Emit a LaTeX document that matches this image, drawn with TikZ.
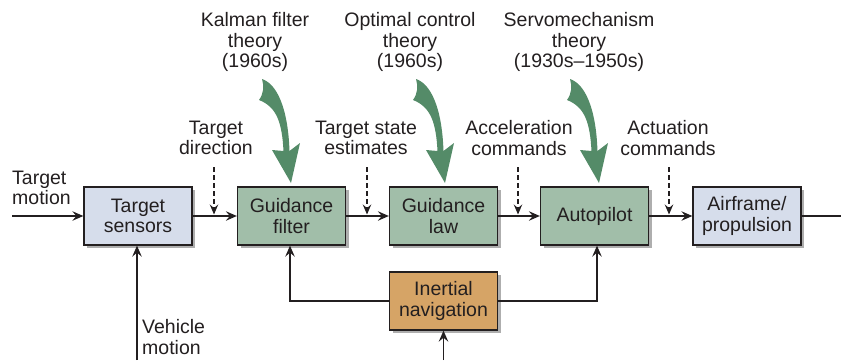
\documentclass[tikz,border=0pt]{standalone}
\usepackage{fontspec}
\setmainfont{Liberation Sans}
\usetikzlibrary{arrows.meta,shadows,calc}

\definecolor{ink}{RGB}{35,31,32}
\definecolor{boxgreen}{RGB}{161,190,169}
\definecolor{boxblue}{RGB}{214,221,235}
\definecolor{boxorange}{RGB}{214,164,102}
\definecolor{fatgreen}{RGB}{84,139,104}

\tikzset{
  block/.style={draw=ink, line width=1.3pt, minimum width=108pt, minimum height=58pt,
    align=center, inner sep=0pt, text=ink,
    drop shadow={shadow xshift=3pt, shadow yshift=-3pt, fill=black!45, opacity=0.7}},
  bluebox/.style={block, fill=boxblue},
  greenbox/.style={block, fill=boxgreen},
  orangebox/.style={block, fill=boxorange},
  lbl/.style={align=center, inner sep=0pt, text=ink},
  conn/.style={draw=ink, line width=1.3pt, -{Stealth[length=11pt,width=9.5pt,inset=4pt]}},
  plainline/.style={draw=ink, line width=1.3pt},
  dasharrow/.style={draw=ink, line width=1.2pt, dash pattern=on 5pt off 3pt,
    -{Stealth[length=10pt,width=8.5pt,inset=3.5pt]}},
  fatarrow/.style={fill=fatgreen, draw=none}
}

\begin{document}
\begin{tikzpicture}[x=1pt, y=-1pt, font=\fontsize{19.5}{20.5}\selectfont]
\useasboundingbox (0,0) rectangle (841,360);

% curved "theory" arrows feeding the blocks
\foreach \tx in {291,445,599}{
  \fill[fatarrow, shift={(\tx,183)}]
    (-29,-104) .. controls (-14,-99) and (-3,-75) .. (-1.5,-32)
    -- (9,-40) -- (0,0) -- (-19,-33) -- (-7.5,-32)
    .. controls (-9,-60) and (-14,-76) .. (-32,-83)
    .. controls (-27,-90) and (-27,-97) .. cycle;
}

% blocks
\node[bluebox]   (ts)  at (138,216)   {Target\\sensors};
\node[greenbox]  (gf)  at (291.5,216) {Guidance\\filter};
\node[greenbox]  (gl)  at (443.5,216) {Guidance\\law};
\node[greenbox]  (ap)  at (594.5,216) {Autopilot};
\node[bluebox]   (af)  at (747,216)   {Airframe/\\propulsion};
\node[orangebox] (ins) at (443.5,301) {Inertial\\navigation};

% theory labels
\node[lbl] (kal)   at (255,42) {Kalman filter\\theory\\(1960s)};
\node[lbl] (opt)   at (410,42) {Optimal control\\theory\\(1960s)};
\node[lbl] (servo) at (579,42) {Servomechanism\\theory\\(1930s–1950s)};

% signal labels
\node[lbl] (tdir) at (216,138) {Target\\direction};
\node[lbl] (tse)  at (366,138) {Target state\\estimates};
\node[lbl] (acc)  at (519,138) {Acceleration\\commands};
\node[lbl] (act)  at (668,138) {Actuation\\commands};
\node[lbl, align=left, anchor=west] (tm) at (12,188) {Target\\motion};
\node[lbl, align=left, anchor=west] (vm) at (142,337) {Vehicle\\motion};

% free ends
\coordinate (tmIn)  at (12,216);
\coordinate (out)   at (841,216);
\coordinate (vmIn)  at (137,360);
\coordinate (insIn) at (443.5,360);

% main chain
\draw[conn] (tmIn) -- (ts);
\draw[conn] (ts) -- (gf);
\draw[conn] (gf) -- (gl);
\draw[conn] (gl) -- (ap);
\draw[conn] (ap) -- (af);
\draw[plainline] (af) -- (out);

% vehicle motion and inertial navigation
\draw[conn] (vmIn) -- (vmIn |- ts.south);
\draw[conn] (insIn) -- (ins.south);
\draw[conn] (ins.west) -| ([xshift=-1.5pt]gf.south);
\draw[conn] (ins.east) -| ([xshift=2.5pt]ap.south);

% dashed signal taps
\foreach \dx/\nm in {214/da, 367/db, 518/dc, 669/dd}{
  \coordinate (\nm1) at (\dx,167);
  \coordinate (\nm2) at (\dx,214.5);
  \draw[dasharrow] (\nm1) -- (\nm2);
}
\end{tikzpicture}
\end{document}
